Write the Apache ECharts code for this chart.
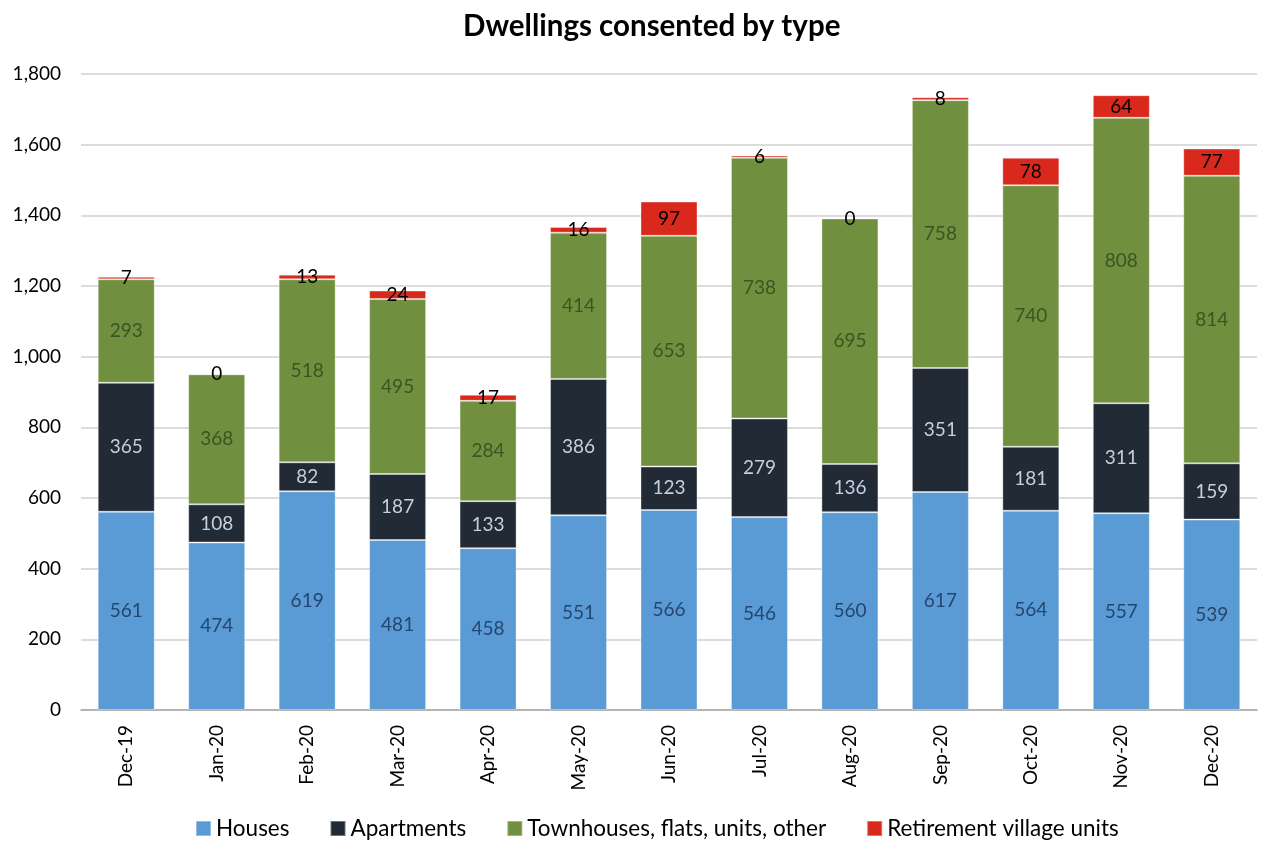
<!DOCTYPE html>
<html>
<head>
<meta charset="utf-8">
<script src="https://cdn.jsdelivr.net/npm/echarts@6/dist/echarts.min.js"></script>
<style>
  html, body { margin: 0; padding: 0; background: #ffffff; }
  #chart { width: 1269px; height: 843px; }
</style>
</head>
<body>
<div id="chart"></div>
<script>
// Monthly dwellings consented, split by dwelling type
const months = ['Dec-19','Jan-20','Feb-20','Mar-20','Apr-20','May-20','Jun-20','Jul-20','Aug-20','Sep-20','Oct-20','Nov-20','Dec-20'];
const houses = [561, 474, 619, 481, 458, 551, 566, 546, 560, 617, 564, 557, 539];
const apartments = [365, 108, 82, 187, 133, 386, 123, 279, 136, 351, 181, 311, 159];
const townhouses = [293, 368, 518, 495, 284, 414, 653, 738, 695, 758, 740, 808, 814];
const retirement = [7, 0, 13, 24, 17, 16, 97, 6, 0, 8, 78, 64, 77];

const FONT = 'Lato, "Open Sans", sans-serif';

function seg(name, data, color, labelColor) {
  return {
    name: name,
    type: 'bar',
    stack: 'total',
    data: data,
    barWidth: '63%',
    itemStyle: { color: color, borderColor: 'rgba(255,255,255,0.35)', borderWidth: 1 },
    label: {
      show: true,
      position: 'inside',
      color: labelColor,
      fontFamily: FONT,
      fontSize: 19
    },
    emphasis: { disabled: true }
  };
}

const chart = echarts.init(document.getElementById('chart'));
chart.setOption({
  animation: false,
  backgroundColor: '#ffffff',
  title: {
    text: 'Dwellings consented by type',
    left: 458,
    top: 6,
    textStyle: { fontFamily: FONT, fontWeight: 'bold', fontSize: 29.5, color: '#000000' }
  },
  legend: {
    top: 812,
    left: 190,
    itemWidth: 15,
    itemHeight: 15,
    itemGap: 40,
    icon: 'rect',
    textStyle: { fontFamily: FONT, fontSize: 22.5, color: '#000000' }
  },
  grid: { left: 81, right: 12, top: 74, bottom: 133 },
  xAxis: {
    type: 'category',
    data: months,
    axisLine: { lineStyle: { color: '#a6a6a6', width: 1.5 } },
    axisTick: { show: false },
    axisLabel: {
      rotate: 90,
      margin: 15,
      fontFamily: FONT,
      fontSize: 19,
      color: '#000000'
    }
  },
  yAxis: {
    type: 'value',
    min: 0,
    max: 1800,
    interval: 200,
    axisLine: { show: false },
    axisTick: { show: false },
    splitLine: { lineStyle: { color: '#d0d0d0', width: 1.5 } },
    axisLabel: {
      margin: 20,
      fontFamily: FONT,
      fontSize: 19,
      color: '#000000',
      formatter: function (v) { return v.toLocaleString('en-US'); }
    }
  },
  series: [
    seg('Houses', houses, '#5b9bd5', '#24466f'),
    seg('Apartments', apartments, '#222a35', '#c5cfe0'),
    seg('Townhouses, flats, units, other', townhouses, '#70903f', '#3a5620'),
    seg('Retirement village units', retirement, '#d9291c', '#000000')
  ]
});
</script>
</body>
</html>
